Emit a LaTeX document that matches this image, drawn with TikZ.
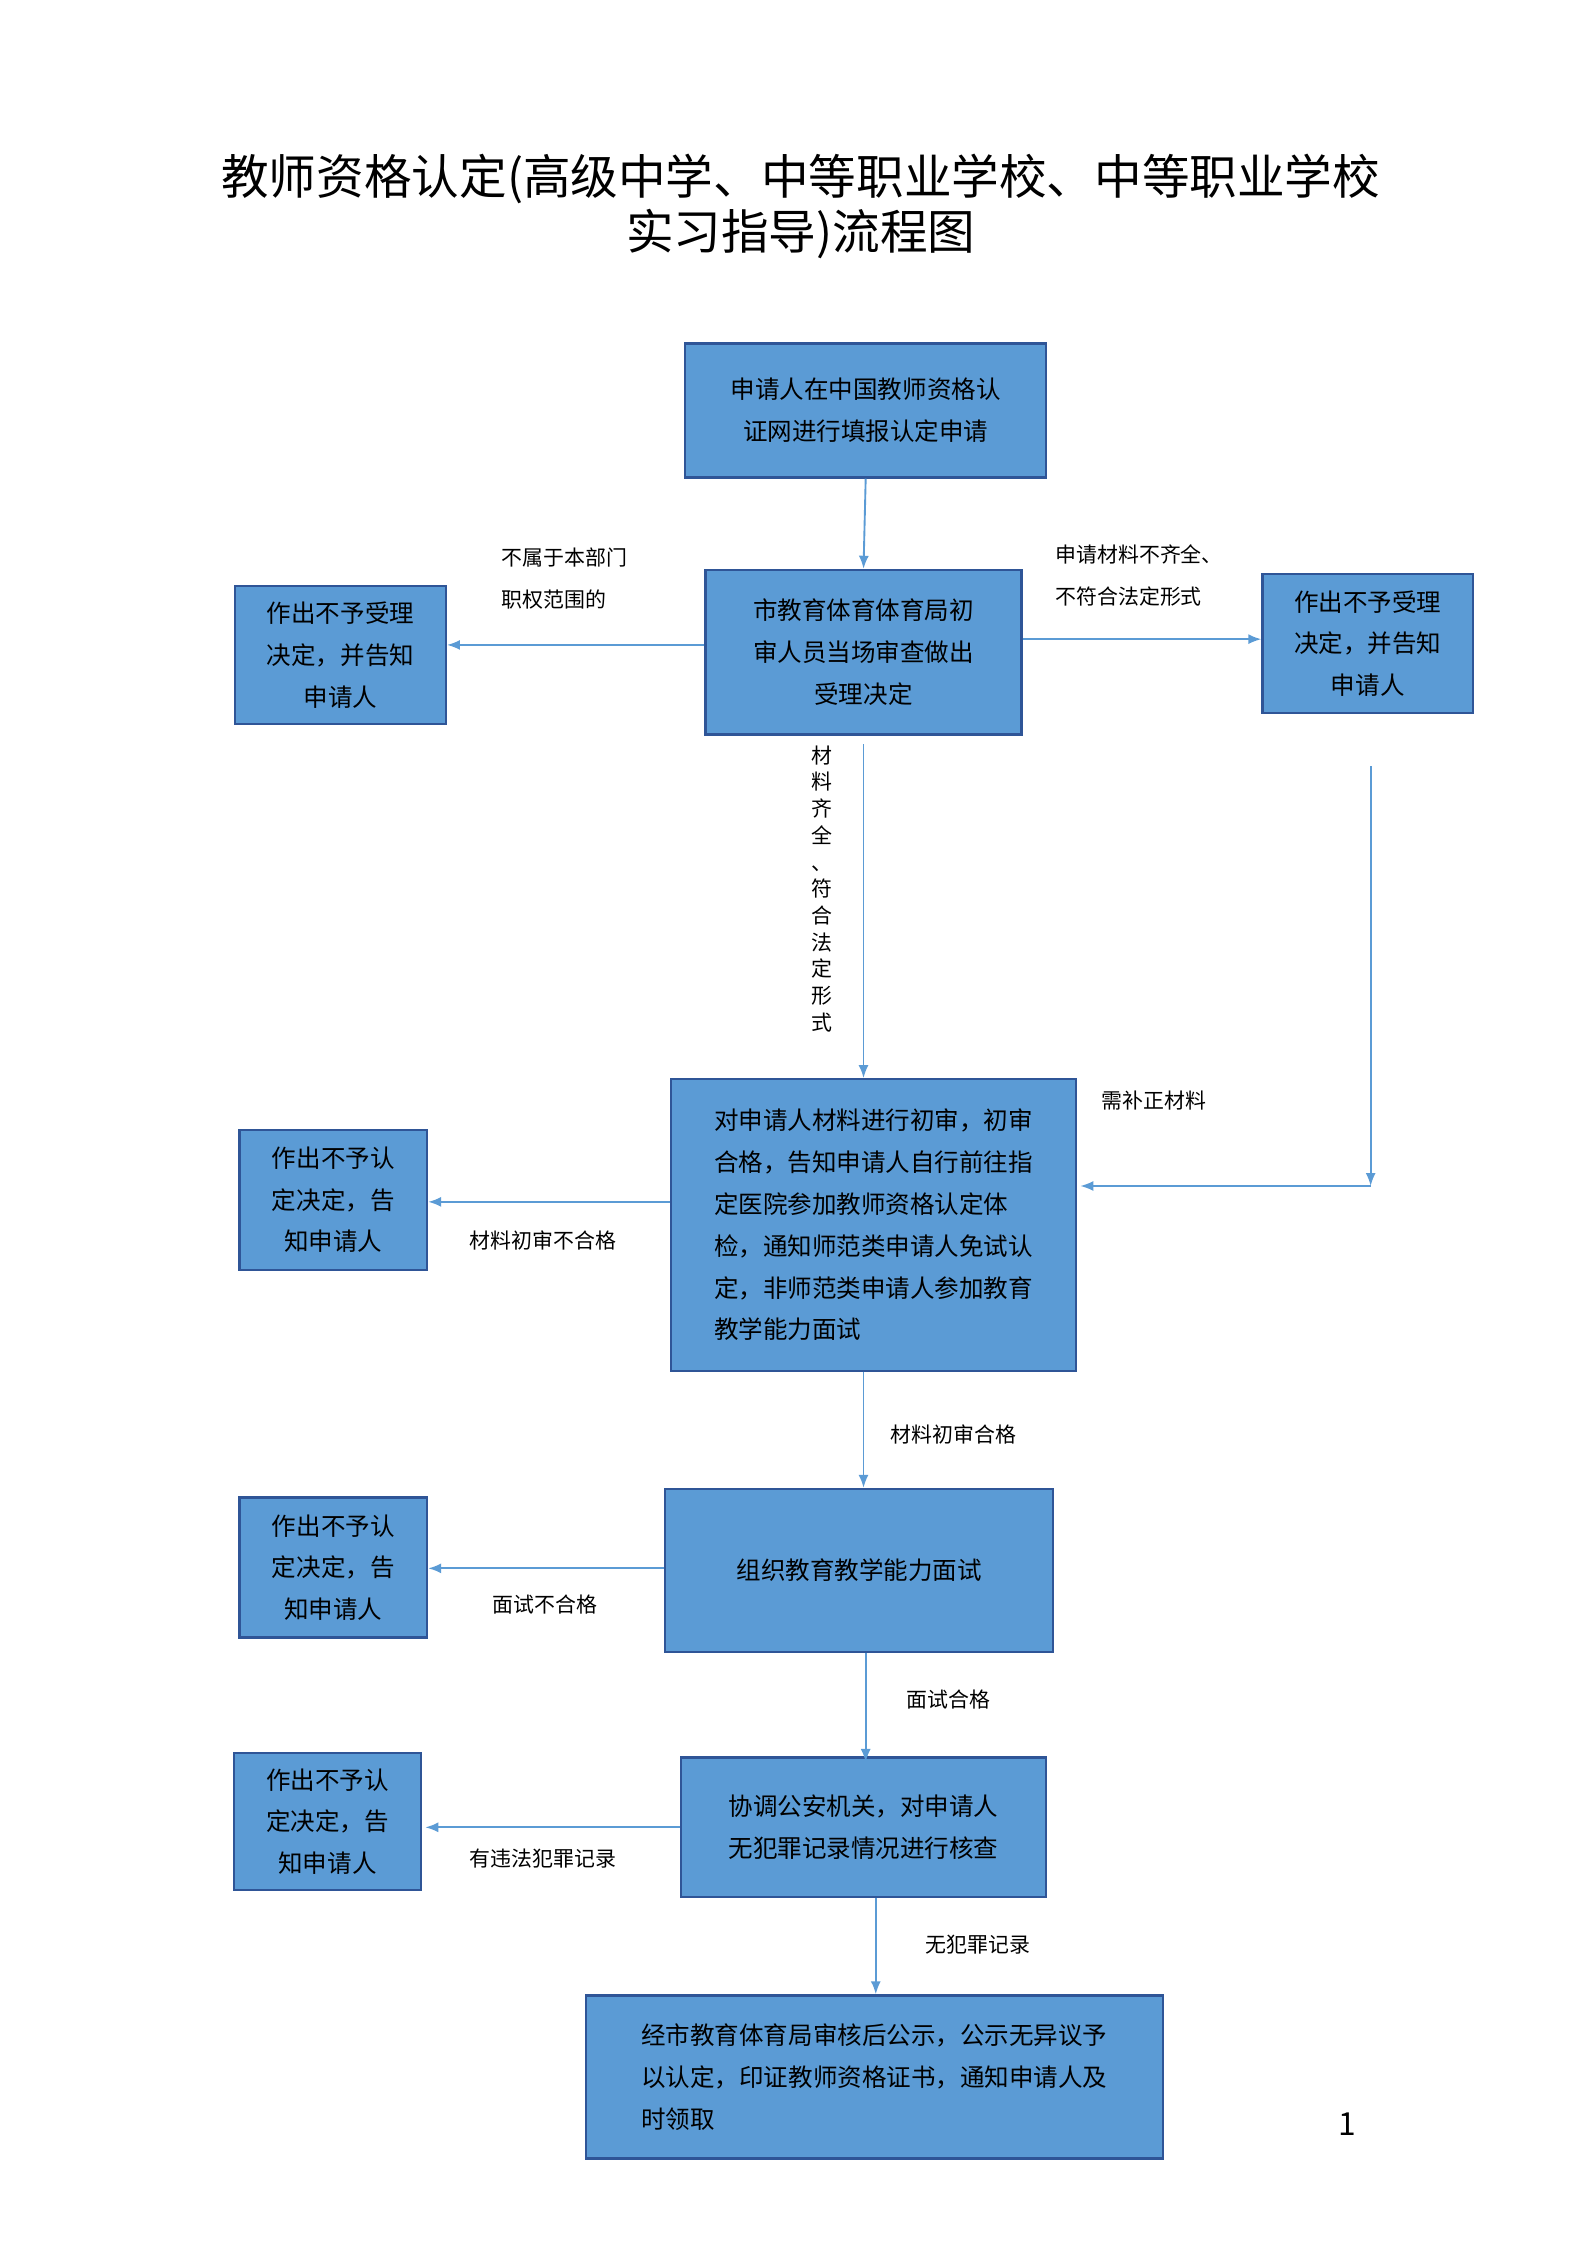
\documentclass[tikz,border=0pt]{standalone}
\usepackage{fontspec}
\setmainfont{Noto Sans CJK SC}
\usetikzlibrary{positioning,arrows.meta}
\definecolor{boxfill}{HTML}{5B9BD5}
\definecolor{boxline}{HTML}{2F5597}
\definecolor{arrline}{HTML}{5B9BD5}
\tikzset{
  stepbox/.style={draw=boxline,line width=1.6pt,fill=boxfill,inner sep=4pt,
     font=\fontsize{17}{29}\selectfont,align=center},
  flow/.style={draw=arrline,line width=1.3pt,-{Latex[length=9pt,width=7pt]}},
  lbl/.style={font=\fontsize{14.5}{29}\selectfont,align=left,anchor=west}
}
\begin{document}
\begin{tikzpicture}[x=1pt,y=-1pt]
   \useasboundingbox (0,0) rectangle (1100,1556);
   % title
   \node (title) at (555,143) [font=\fontsize{33}{38}\selectfont,align=center]
      {教师资格认定(高级中学、中等职业学校、中等职业学校\\实习指导)流程图};
   % boxes
   \node[stepbox,minimum width=250,minimum height=93] (apply) at (600,284.5)
      {申请人在中国教师资格认\\证网进行填报认定申请};
   \node[stepbox,minimum width=219,minimum height=114] (check) at (598.5,452)
      {市教育体育体育局初\\审人员当场审查做出\\受理决定};
   \node[stepbox,minimum width=146,minimum height=96] (rejL) at (236,454)
      {作出不予受理\\决定，并告知\\申请人};
   \node[stepbox,minimum width=146,minimum height=96] (rejR) at (948,446)
      {作出不予受理\\决定，并告知\\申请人};
   \node[stepbox,minimum width=281,minimum height=202,align=left] (review) at (605.5,849)
      {对申请人材料进行初审，初审\\合格，告知申请人自行前往指\\定医院参加教师资格认定体\\检，通知师范类申请人免试认\\定，非师范类申请人参加教育\\教学能力面试};
   \node[stepbox,minimum width=130,minimum height=97] (failA) at (231,831.5)
      {作出不予认\\定决定，告\\知申请人};
   \node[stepbox,minimum width=269,minimum height=113] (interview) at (595.5,1088.5)
      {组织教育教学能力面试};
   \node[stepbox,minimum width=130,minimum height=97] (failB) at (231,1086.5)
      {作出不予认\\定决定，告\\知申请人};
   \node[stepbox,minimum width=253,minimum height=97] (police) at (598.5,1266.5)
      {协调公安机关，对申请人\\无犯罪记录情况进行核查};
   \node[stepbox,minimum width=130,minimum height=95] (failC) at (227,1262.5)
      {作出不予认\\定决定，告\\知申请人};
   \node[stepbox,minimum width=400,minimum height=113,align=left] (final) at (606,1439.5)
      {经市教育体育局审核后公示，公示无异议予\\以认定，印证教师资格证书，通知申请人及\\时领取};
   % connectors
   \coordinate (rtop) at (950,531);
   \coordinate (rbot) at (950,822);
   \draw[flow] (apply.south) -- (check.north);
   \draw[flow] (check.west |- 0,447) -- (rejL.east |- 0,447);
   \draw[flow] (check.east |- 0,443) -- (rejR.west |- 0,443);
   \draw[flow] ([yshift=-6]check.south) -- (review.north -| check.south);
   \draw[flow] (rtop) -- (rbot);
   \draw[flow] (rbot) -- ([xshift=2]review.east |- rbot);
   \draw[flow] (review.west |- 0,833) -- (failA.east |- 0,833);
   \draw[flow] (review.south -| check.south) -- (interview.north -| check.south);
   \draw[flow] (interview.west |- 0,1087) -- (failB.east |- 0,1087);
   \draw[flow] (interview.south -| apply.south) -- ([yshift=-4]police.north -| apply.south);
   \draw[flow] (police.west) -- ([xshift=2]failC.east |- police.west);
   \draw[flow] (police.south -| 607,0) -- (final.north -| 607,0);
   % labels
   \node[lbl] (l1) at (344,401) {不属于本部门\\职权范围的};
   \node[lbl] (l2) at (728,399) {申请材料不齐全、\\不符合法定形式};
   \node (l3) at (570,616) [font=\fontsize{14.5}{18.5}\selectfont,align=center]
      {材\\料\\齐\\全\\、\\符\\合\\法\\定\\形\\式};
   \node[lbl] (l4) at (760,763) {需补正材料};
   \node[lbl] (l5) at (322,860) {材料初审不合格};
   \node[lbl] (l6) at (614,994) {材料初审合格};
   \node[lbl] (l7) at (338,1112) {面试不合格};
   \node[lbl] (l8) at (625,1178) {面试合格};
   \node[lbl] (l9) at (322,1288) {有违法犯罪记录};
   \node[lbl] (l10) at (638,1348) {无犯罪记录};
   \node (page) at (934,1472) [font=\fontsize{22}{26}\selectfont] {1};
\end{tikzpicture}
\end{document}
